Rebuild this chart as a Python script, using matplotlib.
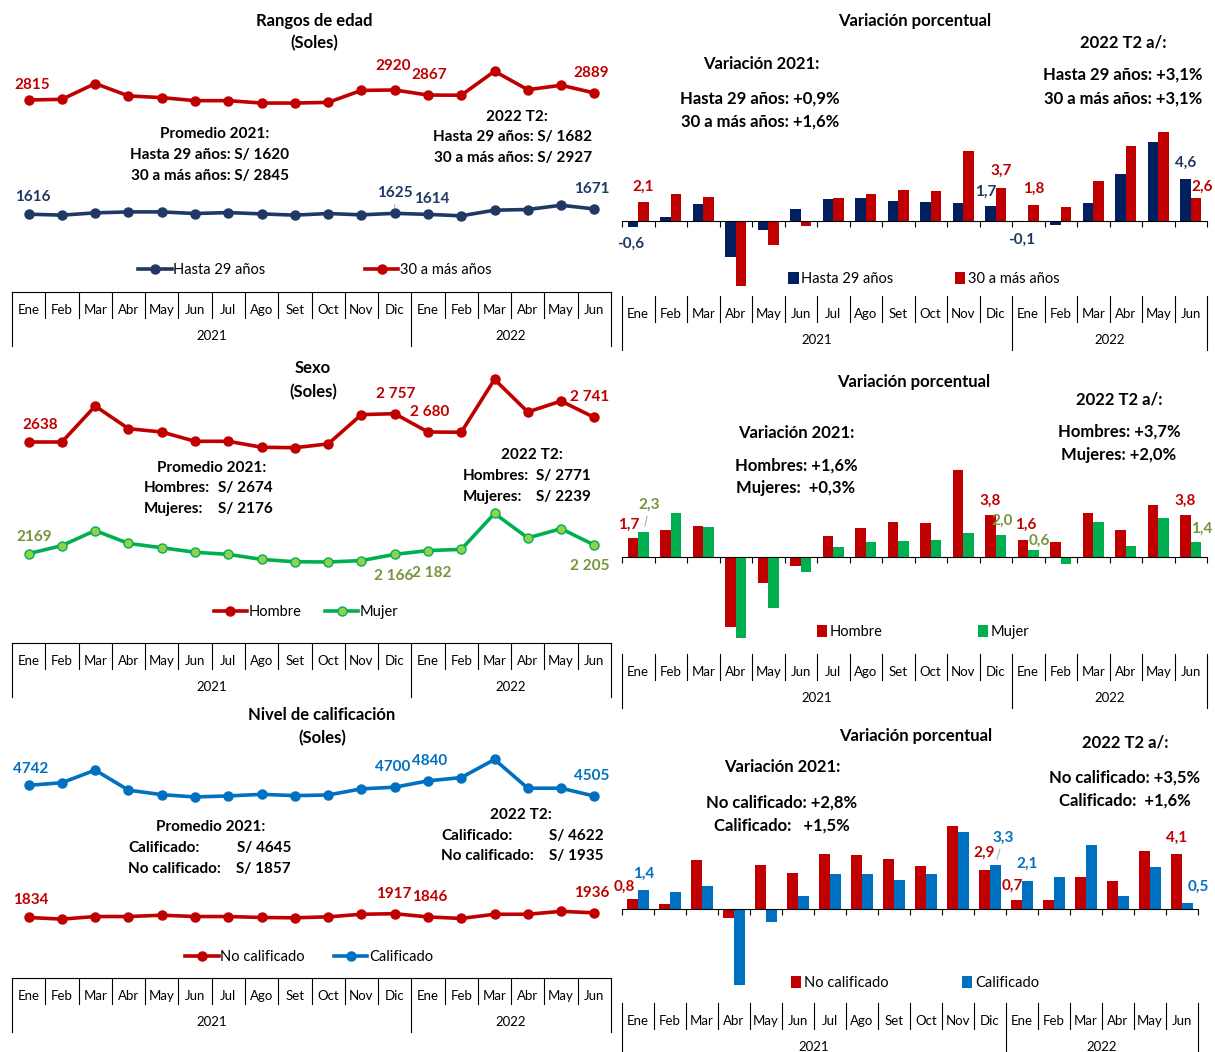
import numpy as np
import matplotlib
matplotlib.use("Agg")
import matplotlib.pyplot as plt
from matplotlib.transforms import blended_transform_factory

plt.rcParams['font.family'] = ['Lato', 'DejaVu Sans']

months = ['Ene', 'Feb', 'Mar', 'Abr', 'May', 'Jun', 'Jul', 'Ago', 'Set', 'Oct', 'Nov', 'Dic',
          'Ene', 'Feb', 'Mar', 'Abr', 'May', 'Jun']
years = ['2021', '2022']

# ingresos promedio (soles)
edad_hasta29 = [1616, 1606, 1630, 1640, 1640, 1623, 1633, 1619, 1606, 1623, 1609, 1625,
                1614, 1599, 1658, 1665, 1710, 1671]
edad_30mas = [2815, 2822, 2988, 2858, 2840, 2808, 2808, 2783, 2783, 2790, 2916, 2920,
              2867, 2865, 3117, 2923, 2970, 2889]
sexo_hombre = [2638, 2638, 2789, 2694, 2680, 2641, 2641, 2616, 2614, 2630, 2753, 2757,
               2680, 2679, 2901, 2764, 2810, 2741]
sexo_mujer = [2169, 2203, 2266, 2212, 2194, 2175, 2166, 2145, 2135, 2134, 2140, 2166,
              2182, 2187, 2338, 2235, 2274, 2205]
calif_no = [1834, 1798, 1855, 1855, 1884, 1855, 1855, 1834, 1827, 1848, 1905, 1917,
            1846, 1813, 1905, 1905, 1969, 1936]
calif_si = [4742, 4799, 5076, 4635, 4536, 4486, 4508, 4543, 4515, 4529, 4664, 4700,
            4840, 4912, 5310, 4678, 4678, 4505]

# variacion porcentual
var_hasta29 = [-0.6, 0.5, 1.85, -3.9, -1.0, 1.3, 2.4, 2.6, 2.2, 2.15, 2.0, 1.7,
               -0.1, -0.4, 2.0, 5.15, 8.7, 4.6]
var_30mas = [2.1, 3.0, 2.7, -7.1, -2.6, -0.5, 2.5, 3.0, 3.4, 3.3, 7.7, 3.7,
             1.8, 1.6, 4.45, 8.2, 9.8, 2.6]
var_hombre = [1.7, 2.5, 2.8, -6.4, -2.4, -0.85, 1.9, 2.65, 3.2, 3.15, 8.0, 3.8,
              1.6, 1.4, 4.0, 2.5, 4.8, 3.8]
var_mujer = [2.3, 4.0, 2.7, -7.4, -4.7, -1.4, 0.95, 1.4, 1.5, 1.6, 2.2, 2.0,
             0.6, -0.65, 3.2, 1.0, 3.6, 1.4]
var_nocalif = [0.8, 0.42, 3.65, -0.67, 3.26, 2.67, 4.1, 4.05, 3.75, 3.2, 6.2, 2.9,
               0.7, 0.67, 2.4, 2.1, 4.3, 4.1]
var_calif = [1.4, 1.3, 1.75, -5.6, -0.94, 0.96, 2.6, 2.6, 2.2, 2.6, 5.7, 3.3,
             2.1, 2.4, 4.8, 1.0, 3.1, 0.5]

RED = '#C00000'
NAVY = '#203864'
NAVY_BAR = '#002060'
GREEN = '#00B050'
GREEN_LT = '#92D050'
OLIVE = '#77933C'
BLUE = '#0070C0'

W, H = 1215, 1052
fig = plt.figure(figsize=(W / 100, H / 100), dpi=100)
x = np.arange(len(months))

ANN = 11        # annotation text, left column
ANN_R = 12      # annotation text, right column
TITLE = 12
LBL = 11


def fy(y):
    return 1 - y / H


def box(x0, y0, x1, y1):
    ax = fig.add_axes([x0 / W, 1 - y1 / H, (x1 - x0) / W, (y1 - y0) / H])
    for s in ax.spines.values():
        s.set_visible(False)
    ax.set_yticks([])
    ax.set_xlim(-0.5, len(months) - 0.5)
    ax.patch.set_visible(False)
    return ax


def fit_y(ax, top, bot, v_ref, y_ref, per_px):
    ax.set_ylim(v_ref - (bot - y_ref) * per_px, v_ref + (y_ref - top) * per_px)


def txt(xp, yp, s, ha='center', size=ANN, weight='bold', color='black'):
    fig.text(xp / W, fy(yp), s, ha=ha, va='center', fontsize=size,
             fontweight=weight, color=color)


def cat_table(ax, top, topline=True):
    tr = blended_transform_factory(ax.transData, fig.transFigure)
    n = len(months)
    kw = dict(transform=tr, color='black', lw=0.8, clip_on=False)
    if topline:
        ax.plot([-0.5, n - 0.5], [fy(top)] * 2, **kw)
    for k in range(n + 1):
        bottom = top + 54 if k in (0, 12, n) else top + 26
        ax.plot([k - 0.5] * 2, [fy(top), fy(bottom)], **kw)
    for i, m in enumerate(months):
        ax.text(i, fy(top + 18), m, transform=tr, ha='center', va='center', fontsize=9.5)
    for yr, c in zip(years, [5.5, 14.5]):
        ax.text(c, fy(top + 44), yr, transform=tr, ha='center', va='center', fontsize=9.5)
    ax.set_xlim(-0.5, n - 0.5)
    ax.set_xticks([])


def point_labels(ax, xs, vals, offs, color, fmt, leader=()):
    for i, (dx, dy) in offs.items():
        ap = None
        if i in leader:
            ap = dict(arrowstyle='-', color='#a6a6a6', lw=0.7, shrinkA=1, shrinkB=4)
        ax.annotate(fmt(i, vals[i]), (xs[i], vals[i]), xytext=(dx, dy),
                    textcoords='offset pixels', ha='center', va='center',
                    fontsize=LBL, fontweight='bold', color=color, arrowprops=ap)


def line_panel(top, bot, s1, s2, c1, c2, name1, name2, ref, offs1, offs2, lc1, lc2,
               fmt, leg_xy, colsp, leader1=(), mfc2=None):
    ax = box(12, top, 611, bot)
    fit_y(ax, top, bot, *ref)
    l1, = ax.plot(x, s1, color=c1, lw=2.6, marker='o', ms=6.5, label=name1, clip_on=False)
    l2, = ax.plot(x, s2, color=c2, lw=2.6, marker='o', ms=6.5, label=name2,
                  markerfacecolor=mfc2 or c2, clip_on=False)
    point_labels(ax, x, s1, offs1, lc1, fmt, leader1)
    point_labels(ax, x, s2, offs2, lc2, fmt)
    cat_table(ax, bot)
    ax.legend(handles=[l1, l2], ncol=2, loc='center', frameon=False, fontsize=10.5,
              bbox_to_anchor=(leg_xy[0] / W, fy(leg_xy[1])), bbox_transform=fig.transFigure,
              handlelength=2.3, handletextpad=0.1, columnspacing=colsp, numpoints=1)
    return ax


def bar_panel(top, bot, right, v1, v2, c1, c2, name1, name2, ref, offs1, offs2, lc1, lc2,
              leg_xy, colsp, leader2=()):
    ax = box(622, top, right, bot)
    fit_y(ax, top, bot, *ref)
    w = 0.33
    b1 = ax.bar(x - w / 2, v1, w, color=c1, label=name1, zorder=2)
    b2 = ax.bar(x + w / 2, v2, w, color=c2, label=name2, zorder=2)
    fmt = lambda i, v: f'{v:.1f}'.replace('.', ',')
    point_labels(ax, x - w / 2, v1, offs1, lc1, fmt)
    point_labels(ax, x + w / 2, v2, offs2, lc2, fmt, leader2)
    cat_table(ax, bot, topline=False)
    ax.spines['bottom'].set_visible(True)
    ax.spines['bottom'].set_position(('data', 0))
    ax.spines['bottom'].set_zorder(3)
    ax.set_xticks(np.arange(-0.5, len(months), 1))
    ax.tick_params(axis='x', length=4, direction='out', labelbottom=False, width=0.8)
    ax.legend(handles=[b1, b2], ncol=2, loc='center', frameon=False, fontsize=10.5,
              bbox_to_anchor=(leg_xy[0] / W, fy(leg_xy[1])), bbox_transform=fig.transFigure,
              handlelength=0.7, handleheight=0.8, handletextpad=0.2, columnspacing=colsp)
    return ax


plain = lambda i, v: str(v)
spaced = lambda i, v: str(v) if i == 0 else f'{v:,}'.replace(',', ' ')

# ---------- Rangos de edad ----------
txt(314, 21, 'Rangos de edad', size=TITLE)
txt(314, 43, '(Soles)', size=TITLE)
line_panel(50, 292, edad_hasta29, edad_30mas, NAVY, RED, 'Hasta 29 años', '30 a más años',
           (2815, 100, 10.5),
           {0: (4, 17), 11: (0, 20), 12: (4, 15), 17: (-3, 20)},
           {0: (4, 15), 11: (-2, 24), 12: (1, 20), 17: (-3, 20)},
           NAVY, RED, plain, (315, 270), 6.8, leader1=(11,))
txt(215, 134, 'Promedio 2021:')
txt(210, 155, 'Hasta 29 años: S/ 1620')
txt(210, 176, '30 a más años: S/ 2845')
txt(517, 117, '2022 T2:')
txt(513, 137, 'Hasta 29 años: S/ 1682')
txt(513, 158, '30 a más años: S/ 2927')

# ---------- Sexo ----------
txt(313, 368, 'Sexo', size=TITLE)
txt(313, 392, '(Soles)', size=TITLE)
line_panel(360, 643, sexo_hombre, sexo_mujer, RED, GREEN, 'Hombre', 'Mujer',
           (2638, 442, 4.2),
           {0: (12, 17), 11: (1, 20), 12: (2, 20), 17: (-5, 20)},
           {0: (5, 17), 11: (-1, -22), 12: (4, -22), 17: (-5, -21)},
           RED, OLIVE, spaced, (306, 612), 1.6, mfc2=GREEN_LT)
txt(212, 468, 'Promedio 2021:')
txt(144, 488, 'Hombres:', ha='left')
txt(218, 488, 'S/ 2674', ha='left')
txt(144, 509, 'Mujeres:', ha='left')
txt(218, 509, 'S/ 2176', ha='left')
txt(532, 455, '2022 T2:')
txt(463, 476, 'Hombres:', ha='left')
txt(536, 476, 'S/ 2771', ha='left')
txt(463, 497, 'Mujeres:', ha='left')
txt(536, 497, 'S/ 2239', ha='left')

# ---------- Nivel de calificacion ----------
txt(322, 715, 'Nivel de calificación', size=TITLE)
txt(322, 738, '(Soles)', size=TITLE)
line_panel(750, 978, calif_no, calif_si, RED, BLUE, 'No calificado', 'Calificado',
           (4742, 785.3, 22.0),
           {0: (2, 17), 11: (-1, 20), 12: (2, 20), 17: (-3, 20)},
           {0: (2, 16), 11: (-2, 20), 12: (2, 20), 17: (-3, 20)},
           RED, BLUE, plain, (309, 957), 2.0)
txt(211, 827, 'Promedio 2021:')
txt(128, 848, 'Calificado:', ha='left')
txt(237, 848, 'S/ 4645', ha='left')
txt(128, 869, 'No calificado:', ha='left')
txt(236, 869, 'S/ 1857', ha='left')
txt(521, 815, '2022 T2:')
txt(441, 836, 'Calificado:', ha='left')
txt(549, 836, 'S/ 4622', ha='left')
txt(441, 856, 'No calificado:', ha='left')
txt(549, 856, 'S/ 1935', ha='left')

# ---------- Variacion: edad ----------
txt(915, 21, 'Variación porcentual', size=ANN_R)
bar_panel(50, 296, 1207, var_hasta29, var_30mas, NAVY_BAR, RED, 'Hasta 29 años', '30 a más años',
          (0, 221.3, 1 / 9.13),
          {0: (-2, -17), 11: (-5, 14), 12: (-1, -18), 17: (0, 17)},
          {0: (0, 15), 11: (0, 16.5), 12: (0, 16), 17: (6, 10.5)},
          NAVY, RED, (924, 279), 4.2)
txt(1123, 42, '2022 T2 a/:', size=ANN_R)
txt(761, 64, 'Variación 2021:', size=ANN_R)
txt(760, 99, 'Hasta 29 años: +0,9%', size=ANN_R)
txt(760, 122, '30 a más años: +1,6%', size=ANN_R)
txt(1123, 75, 'Hasta 29 años: +3,1%', size=ANN_R)
txt(1123, 99, '30 a más años: +3,1%', size=ANN_R)

# ---------- Variacion: sexo ----------
txt(914, 382, 'Variación porcentual', size=ANN_R)
bar_panel(400, 654, 1207, var_hombre, var_mujer, RED, GREEN, 'Hombre', 'Mujer',
          (0, 557, 1 / 10.93),
          {0: (-4, 14), 11: (0, 15), 12: (3, 15), 17: (0, 15)},
          {0: (6, 27), 11: (1, 14), 12: (6, 10), 17: (6, 13)},
          RED, OLIVE, (923, 632), 6.5, leader2=(0,))
txt(1119, 400, '2022 T2 a/:', size=ANN_R)
txt(796, 433, 'Variación 2021:', size=ANN_R)
txt(796, 466, 'Hombres: +1,6%', size=ANN_R)
txt(796, 488, 'Mujeres:  +0,3%', size=ANN_R)
txt(1119, 432, 'Hombres: +3,7%', size=ANN_R)
txt(1119, 455, 'Mujeres: +2,0%', size=ANN_R)

# ---------- Variacion: calificacion ----------
txt(916, 736, 'Variación porcentual', size=ANN_R)
bar_panel(750, 1003, 1198, var_nocalif, var_calif, RED, BLUE, 'No calificado', 'Calificado',
          (0, 909.3, 1 / 13.5),
          {0: (-8, 12), 11: (-1, 17), 12: (-4, 14), 17: (0, 16)},
          {0: (0, 17), 11: (8, 27), 12: (0, 17), 17: (11, 16)},
          RED, BLUE, (915, 983), 5.0, leader2=(11,))
txt(1125, 742, '2022 T2 a/:', size=ANN_R)
txt(782, 767, 'Variación 2021:', size=ANN_R)
txt(782, 803, 'No calificado: +2,8%', size=ANN_R)
txt(782, 826, 'Calificado:   +1,5%', size=ANN_R)
txt(1125, 778, 'No calificado: +3,5%', size=ANN_R)
txt(1125, 801, 'Calificado:  +1,6%', size=ANN_R)

fig.savefig('out.png', dpi=100)
